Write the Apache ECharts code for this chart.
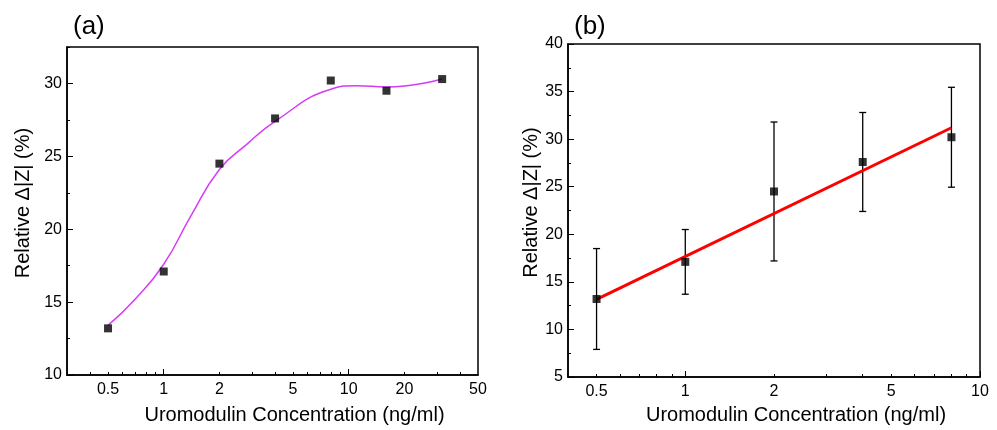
<!DOCTYPE html>
<html>
<head>
<meta charset="utf-8" />
<title>Uromodulin</title>
<script type="text/javascript" src="https://cdn.jsdelivr.net/npm/echarts@6/dist/echarts.min.js"></script>
<style type="text/css">
html, body {
	width: 100%;
	height: 100%;
	margin: 0;
	background: #fff;
}
#main {
	width: 997px;
	height: 430px;
}
</style>
</head>
<body>
<div id="main"></div>
<script type="text/javascript">
var concA = [0.5, 1, 2, 4, 8, 16, 32];
var respA = [13.2, 17.1, 24.5, 27.6, 30.2, 29.5, 30.3];
var curveX = [0.5, 0.7, 1, 1.4, 2, 2.8, 4, 8, 11, 16, 32];
var curveY = [13.4, 15.2, 17.6, 20.9, 24.1, 25.8, 27.4, 29.6, 29.85, 29.75, 30.3];

// panel (b): mean, error and linear fit (log x)
var concB = [0.5, 1, 2, 4, 8];
var respB = [13.2, 17.1, 24.5, 27.6, 30.2];
var errB = [5.3, 3.4, 7.3, 5.2, 5.25];
var fitX = [0.5, 8];
var fitY = [13.15, 31.2];

var labelsA = [0.5, 1, 2, 5, 10, 20, 50];
var labelsB = [0.5, 1, 2, 5, 10];
var minorA = [0.4, 0.5, 0.6, 0.7, 0.8, 0.9, 2, 3, 4, 5, 6, 7, 8, 9, 20, 30, 40];
var minorB = [0.5, 0.6, 0.7, 0.8, 0.9, 2, 3, 4, 5, 6, 7, 8, 9];
var majorX = [1, 10];

var FONT = "'Liberation Sans', Arial, sans-serif";
var lg = function (v) { return Math.log10(v); };
var pts = function (xs, ys) { return xs.map(function (x, i) { return [lg(x), ys[i]]; }); };

function xAxes(grid, min, max, labels, minor) {
    var lo = lg(min), hi = lg(max);
    return [{
        type: 'value', gridIndex: grid, position: 'bottom', min: lo, max: hi,
        axisLine: { onZero: false, lineStyle: { color: '#000', width: 1.5 } },
        axisTick: { inside: true, length: 3, customValues: minor.map(lg), lineStyle: { color: '#000' } },
        axisLabel: {
            customValues: labels.map(lg), color: '#000', fontSize: 16, fontFamily: FONT, margin: 7,
            formatter: function (v) { return String(Math.round(Math.pow(10, v) * 10) / 10); }
        },
        splitLine: { show: false },
        name: 'Uromodulin Concentration (ng/ml)', nameLocation: 'middle', nameGap: grid ? 28 : 30,
        nameTextStyle: { color: '#000', fontSize: 20, fontFamily: FONT, padding: [0, 0, 0, 44] }
    }, {
        type: 'value', gridIndex: grid, position: 'bottom', min: lo, max: hi,
        axisLine: { show: false, onZero: false },
        axisTick: { inside: true, length: 6, customValues: majorX.map(lg), lineStyle: { color: '#000' } },
        axisLabel: { show: false },
        splitLine: { show: false }
    }];
}

function yAxes(grid, min, max, gap) {
    var minors = [], majors = [];
    for (var v = min; v <= max + 1e-9; v += 2.5) {
        if (v % 5 === 0) { majors.push(v); } else { minors.push(v); }
    }
    return [{
        type: 'value', gridIndex: grid, min: min, max: max, position: 'left',
        axisLine: { show: true, onZero: false, lineStyle: { color: '#000', width: 1.5 } },
        axisTick: { inside: true, length: 3, customValues: minors, lineStyle: { color: '#000' } },
        axisLabel: { customValues: majors, color: '#000', fontSize: 16, fontFamily: FONT, margin: 5 },
        splitLine: { show: false },
        name: 'Relative \u0394|Z| (%)', nameLocation: 'middle', nameGap: gap,
        nameTextStyle: { color: '#000', fontSize: 20, fontFamily: FONT, padding: [0, 0, 0, 16] }
    }, {
        type: 'value', gridIndex: grid, min: min, max: max, position: 'left',
        axisLine: { show: false, onZero: false },
        axisTick: { inside: true, length: 6, customValues: majors, lineStyle: { color: '#000' } },
        axisLabel: { show: false },
        splitLine: { show: false }
    }];
}

var chart = echarts.init(document.getElementById('main'), null, { renderer: 'canvas' });

var option = {
    animation: false,
    backgroundColor: '#fff',
    title: [
        { text: '(a)', left: 68, top: 9, textStyle: { fontSize: 26, fontWeight: 'normal', color: '#000', fontFamily: FONT } },
        { text: '(b)', left: 569, top: 9, textStyle: { fontSize: 26, fontWeight: 'normal', color: '#000', fontFamily: FONT } }
    ],
    grid: [
        { left: 67, top: 47, width: 411, height: 332, show: true, borderColor: '#000', borderWidth: 1.5 },
        { left: 568, top: 44, width: 412, height: 333, show: true, borderColor: '#000', borderWidth: 1.5 }
    ],
    xAxis: xAxes(0, 0.3, 50, labelsA, minorA).concat(xAxes(1, 0.4, 10, labelsB, minorB)),
    yAxis: yAxes(0, 10, 32.5, 34).concat(yAxes(1, 5, 40, 27)),
    series: [{
        type: 'line', xAxisIndex: 0, yAxisIndex: 0,
        data: pts(curveX, curveY), smooth: 0.5, showSymbol: false,
        lineStyle: { color: '#D63AF9', width: 1.5 }
    }, {
        type: 'scatter', xAxisIndex: 0, yAxisIndex: 0,
        data: pts(concA, respA), symbol: 'rect', symbolSize: 8,
        itemStyle: { color: '#000' }, z: 5
    }, {
        type: 'custom', xAxisIndex: 2, yAxisIndex: 2,
        data: concB.map(function (x, i) { return [lg(x), respB[i] - errB[i], respB[i] + errB[i]]; }),
        renderItem: function (params, api) {
            var lo = api.coord([api.value(0), api.value(1)]);
            var hi = api.coord([api.value(0), api.value(2)]);
            var w = 3.5;
            var st = { stroke: '#000', lineWidth: 1.3 };
            return {
                type: 'group',
                children: [
                    { type: 'line', shape: { x1: lo[0], y1: lo[1], x2: hi[0], y2: hi[1] }, style: st },
                    { type: 'line', shape: { x1: lo[0] - w, y1: lo[1], x2: lo[0] + w, y2: lo[1] }, style: st },
                    { type: 'line', shape: { x1: hi[0] - w, y1: hi[1], x2: hi[0] + w, y2: hi[1] }, style: st }
                ]
            };
        },
        z: 2
    }, {
        type: 'line', xAxisIndex: 2, yAxisIndex: 2,
        data: pts(fitX, fitY), showSymbol: false,
        lineStyle: { color: '#FF0000', width: 3 }, z: 3
    }, {
        type: 'scatter', xAxisIndex: 2, yAxisIndex: 2,
        data: pts(concB, respB), symbol: 'rect', symbolSize: 8,
        itemStyle: { color: '#000' }, z: 5
    }]
};

chart.setOption(option);
</script>
</body>
</html>
